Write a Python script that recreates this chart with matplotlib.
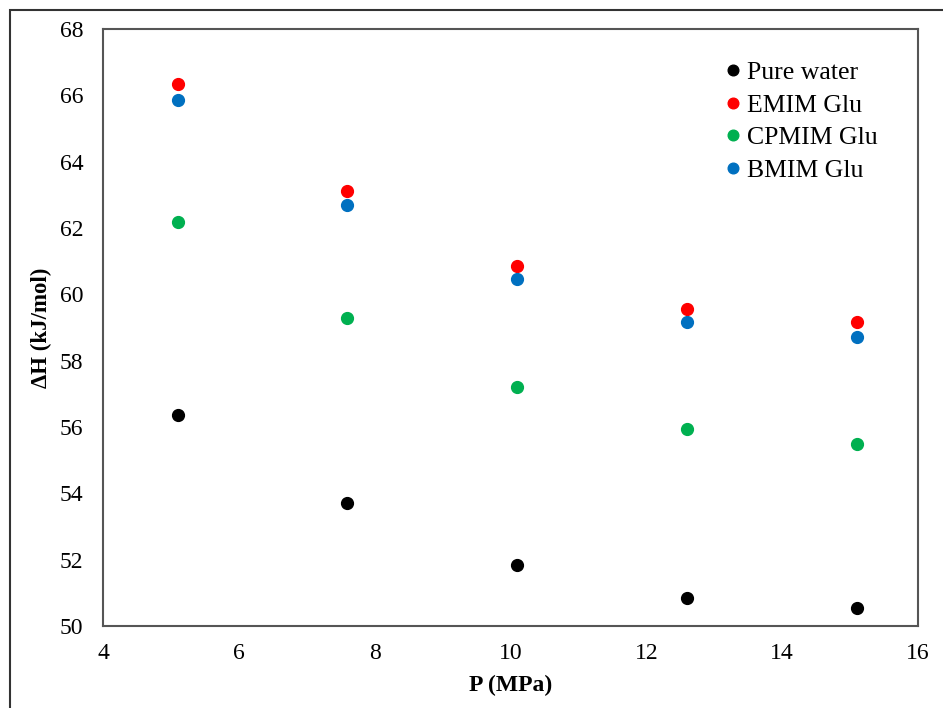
import matplotlib
matplotlib.use("Agg")
import matplotlib.pyplot as plt
from matplotlib.patches import Rectangle

plt.rcParams['font.family'] = ['Liberation Serif', 'DejaVu Serif']

pressure = [5.1, 7.6, 10.1, 12.6, 15.1]
pure_water = [56.36, 53.71, 51.84, 50.84, 50.54]
emim_glu = [66.34, 63.11, 60.85, 59.56, 59.16]
cpmim_glu = [62.18, 59.29, 57.21, 55.94, 55.49]
bmim_glu = [65.86, 62.69, 60.46, 59.16, 58.71]

series = [
    ("Pure water", pure_water, "#000000"),
    ("EMIM Glu", emim_glu, "#FF0000"),
    ("CPMIM Glu", cpmim_glu, "#00B050"),
    ("BMIM Glu", bmim_glu, "#0070C0"),
]

xticks = [4, 6, 8, 10, 12, 14, 16]
yticks = [50, 52, 54, 56, 58, 60, 62, 64, 66, 68]

fig = plt.figure(figsize=(9.43, 7.08), dpi=100)
ax = fig.add_axes([103/943, 1-626/708, (918-103)/943, (626-29)/708])

for name, vals, c in series:
    ax.plot(pressure, vals, linestyle='none', marker='o', markersize=8.5,
            color=c, label=name)

ax.set_xlim(4, 16)
ax.set_ylim(50, 68)
ax.set_xticks(xticks)
ax.set_yticks(yticks)
ax.tick_params(length=0, labelsize=17, pad=12)
ax.tick_params(axis='y', pad=14)
for s in ax.spines.values():
    s.set_color('#555555')
    s.set_linewidth(1.5)

ax.set_xlabel("P (MPa)", fontsize=17, fontweight='bold', labelpad=8)
ax.set_ylabel("ΔH (kJ/mol)", fontsize=16.5, fontweight='bold', labelpad=6)

leg = ax.legend(loc='upper left', bbox_to_anchor=(702/943, 1-43/708),
                bbox_transform=fig.transFigure, frameon=False, fontsize=18.5,
                handletextpad=0.05, labelspacing=0.38, handlelength=1.0,
                markerscale=0.9, borderpad=0.2)

fig.patches.append(Rectangle((10/943, -0.1), 1.2, 1 - 10/708 + 0.1,
                             transform=fig.transFigure, fill=False,
                             edgecolor='#333333', linewidth=1.5))

fig.savefig("out.png", dpi=100)
